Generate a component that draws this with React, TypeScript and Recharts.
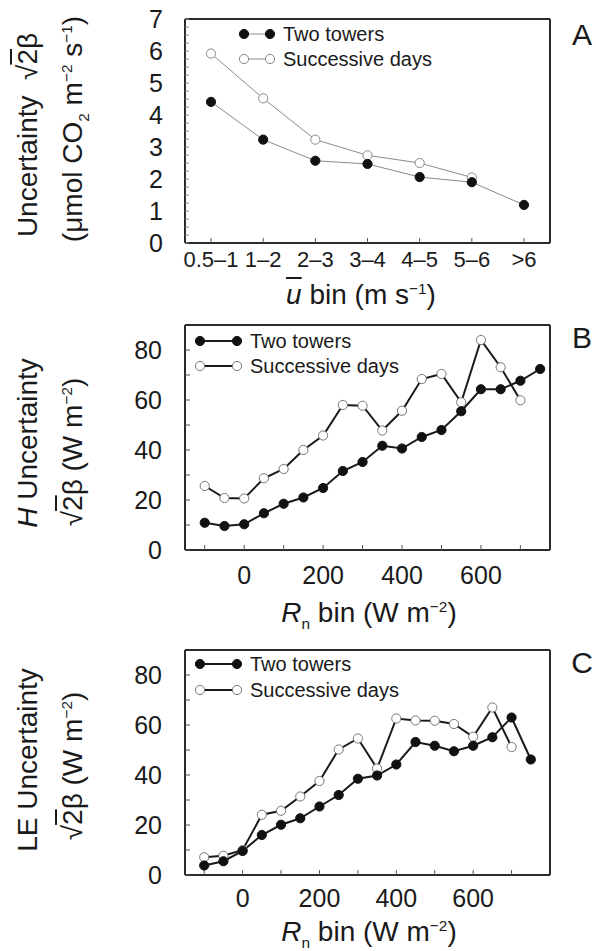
import React from 'react';
import { LineChart, Line, XAxis, YAxis, Legend } from 'recharts';

const FONT = '"Liberation Sans", Arial, Helvetica, sans-serif';
const INK = '#1a1a1a';
const FRAME = '#2b2b2b';
const THIN = '#8a8a8a';

// Panel A: CO2 flux uncertainty per mean wind speed bin
const U_BINS = ['0.5–1', '1–2', '2–3', '3–4', '4–5', '5–6', '>6'];
const CO2_TWO_TOWERS = [4.41, 3.23, 2.57, 2.47, 2.06, 1.9, 1.19];
const CO2_SUCCESSIVE = [5.92, 4.52, 3.23, 2.74, 2.5, 2.05, null];
const CO2_TICKS = [
  0, 0.25, 0.5, 0.75, 1, 1.25, 1.5, 1.75, 2, 2.25, 2.5, 2.75, 3, 3.25, 3.5,
  3.75, 4, 4.25, 4.5, 4.75, 5, 5.25, 5.5, 5.75, 6, 6.25, 6.5, 6.75, 7,
];

// Panels B and C: sensible / latent heat uncertainty per net radiation bin
const RN_BINS = [-100, -50, 0, 50, 100, 150, 200, 250, 300, 350, 400, 450, 500, 550, 600, 650, 700, 750];
const H_TWO_TOWERS = [10.9, 9.6, 10.3, 14.7, 18.5, 21.0, 24.8, 31.6, 35.2, 41.7, 40.6, 45.2, 48.0, 55.5, 64.3, 64.3, 67.7, 72.4];
const H_SUCCESSIVE = [25.6, 20.8, 20.6, 28.7, 32.4, 40.0, 45.8, 58.0, 57.7, 47.8, 55.7, 68.4, 70.4, 59.1, 84.0, 73.1, 59.9, null];
const LE_TWO_TOWERS = [3.8, 5.5, 9.6, 16.0, 20.1, 22.7, 27.4, 32.0, 38.5, 39.8, 44.2, 53.2, 51.7, 49.5, 51.7, 55.1, 63.0, 46.2];
const LE_SUCCESSIVE = [7.1, 7.7, 10.0, 24.1, 25.7, 31.4, 37.6, 50.2, 54.6, 42.6, 62.6, 61.8, 61.7, 60.4, 55.3, 67.0, 51.2, null];

const RN_TICKS = [-100, 0, 100, 200, 300, 400, 500, 600, 700];
const RN_LABELED = [0, 200, 400, 600];
const W_TICKS = [0, 10, 20, 30, 40, 50, 60, 70, 80];
const W_LABELED = [0, 20, 40, 60, 80];

const SERIES = [
  { key: 'two', name: 'Two towers', filled: true },
  { key: 'succ', name: 'Successive days', filled: false },
];

const co2Rows = U_BINS.map((bin, i) => ({ bin, two: CO2_TWO_TOWERS[i], succ: CO2_SUCCESSIVE[i] }));
const hRows = RN_BINS.map((rn, i) => ({ rn, two: H_TWO_TOWERS[i], succ: H_SUCCESSIVE[i] }));
const leRows = RN_BINS.map((rn, i) => ({ rn, two: LE_TWO_TOWERS[i], succ: LE_SUCCESSIVE[i] }));

type Look = { line: string; width: number; open: string };
const LOOK_A: Look = { line: THIN, width: 1, open: THIN };
const LOOK_BC: Look = { line: INK, width: 2, open: '#777' };

function dotFor(filled: boolean, look: Look) {
  return filled
    ? { r: 4.6, fill: '#111', stroke: '#111', strokeWidth: 1 }
    : { r: 4.6, fill: '#fff', stroke: look.open, strokeWidth: 1 };
}

function SeriesKey({ gap, rowH, look }: { gap: number; rowH: number; look: Look }) {
  return (
    <div style={{ fontFamily: FONT, fontSize: 20, color: INK, lineHeight: 1 }}>
      {SERIES.map((s) => (
        <div key={s.key} style={{ display: 'flex', alignItems: 'center', height: rowH }}>
          <svg width={gap + 10} height={12} style={{ overflow: 'visible' }}>
            <line x1={5} x2={gap + 5} y1={6} y2={6} stroke={look.line} strokeWidth={look.width} />
            {[5, gap + 5].map((cx) => (
              <circle key={cx} cx={cx} cy={6} {...dotFor(s.filled, look)} />
            ))}
          </svg>
          <span style={{ marginLeft: 8, whiteSpace: 'nowrap' }}>{s.name}</span>
        </div>
      ))}
    </div>
  );
}

function seriesLines(look: Look) {
  // open markers first so the filled series sits on top where they meet
  return [...SERIES].reverse().map((s) => (
    <Line
      key={s.key}
      dataKey={s.key}
      name={s.name}
      type="linear"
      stroke={look.line}
      strokeWidth={look.width}
      dot={dotFor(s.filled, look)}
      activeDot={false}
      isAnimationActive={false}
    />
  ));
}

const frameLine = { stroke: FRAME, strokeWidth: 2 };
const tickLine = { stroke: '#555', strokeWidth: 1 };

const Radical = () => (
  <span>
    √<span style={{ textDecoration: 'overline' }}>2</span>β
  </span>
);

const Sup = ({ children }: { children: React.ReactNode }) => (
  <sup style={{ fontSize: '0.55em', lineHeight: 0 }}>{children}</sup>
);
const Sub = ({ children }: { children: React.ReactNode }) => (
  <sub style={{ fontSize: '0.55em', lineHeight: 0 }}>{children}</sub>
);

function VTitle({ x, y, children }: { x: number; y: number; children: React.ReactNode }) {
  return (
    <div
      style={{
        position: 'absolute',
        left: x,
        top: y,
        transform: 'translate(-50%, -50%) rotate(-90deg)',
        whiteSpace: 'nowrap',
        fontSize: 28,
        lineHeight: 1,
      }}
    >
      {children}
    </div>
  );
}

function HTitle({ x, y, size = 28, children }: { x: number; y: number; size?: number; children: React.ReactNode }) {
  return (
    <div
      style={{
        position: 'absolute',
        left: x,
        top: y,
        transform: 'translate(-50%, -50%)',
        whiteSpace: 'nowrap',
        fontSize: size,
        lineHeight: 1,
      }}
    >
      {children}
    </div>
  );
}

const RnTitle = () => (
  <>
    <i>R</i>
    <Sub>n</Sub> bin (W m<Sup>−2</Sup>)
  </>
);

const chartMargin = (top: number, bottom: number) => ({ top, right: 46, bottom, left: 125 });

function RnPanel({
  rows,
  top,
  height,
  mTop,
  mBottom,
  xMax,
  xTickMargin,
  legendTop,
  legendRow,
}: {
  rows: { rn: number; two: number; succ: number | null }[];
  top: number;
  height: number;
  mTop: number;
  mBottom: number;
  xMax: number;
  xTickMargin: number;
  legendTop: number;
  legendRow: number;
}) {
  return (
    <div style={{ position: 'absolute', left: 0, top }}>
      <LineChart width={596} height={height} data={rows} margin={chartMargin(mTop, mBottom)}>
        <XAxis
          dataKey="rn"
          type="number"
          domain={[-150, xMax]}
          allowDataOverflow
          ticks={RN_TICKS}
          interval={0}
          tickFormatter={(v: number) => (RN_LABELED.includes(v) ? String(v) : '')}
          tick={{ fontSize: 25, fill: INK }}
          tickSize={-5}
          tickMargin={xTickMargin}
          tickLine={tickLine}
          axisLine={frameLine}
          height={40}
        />
        <XAxis
          xAxisId="top"
          dataKey="rn"
          type="number"
          domain={[-150, xMax]}
          orientation="top"
          mirror
          tick={false}
          tickLine={false}
          axisLine={frameLine}
        />
        <YAxis
          domain={[0, 90]}
          allowDataOverflow
          ticks={W_TICKS}
          interval={0}
          tickFormatter={(v: number) => (W_LABELED.includes(v) ? String(v) : '')}
          tick={{ fontSize: 25, fill: INK }}
          tickSize={-5}
          tickMargin={28}
          tickLine={tickLine}
          axisLine={frameLine}
          width={60}
        />
        <YAxis
          yAxisId="right"
          orientation="right"
          mirror
          domain={[0, 90]}
          tick={false}
          tickLine={false}
          axisLine={frameLine}
        />
        <Legend
          layout="vertical"
          align="center"
          verticalAlign="middle"
          wrapperStyle={{ left: 195, top: legendTop, width: 'auto' }}
          content={() => <SeriesKey gap={37} rowH={legendRow} look={LOOK_BC} />}
        />
        {seriesLines(LOOK_BC)}
      </LineChart>
    </div>
  );
}

export default function App() {
  return (
    <div
      style={{
        position: 'absolute',
        left: 0,
        top: 0,
        width: 596,
        height: 951,
        background: '#fff',
        fontFamily: FONT,
        color: INK,
        overflow: 'hidden',
      }}
    >
      <div style={{ position: 'absolute', left: 0, top: 0 }}>
        <LineChart width={596} height={320} data={co2Rows} margin={chartMargin(19, 37)}>
          <XAxis
            dataKey="bin"
            type="category"
            padding={{ left: 26, right: 26 }}
            interval={0}
            tick={{ fontSize: 22, fill: INK }}
            tickSize={-5}
            tickMargin={13}
            tickLine={tickLine}
            axisLine={frameLine}
            height={40}
          />
          <XAxis
            xAxisId="top"
            dataKey="bin"
            orientation="top"
            mirror
            tick={false}
            tickLine={false}
            axisLine={frameLine}
          />
          <YAxis
            domain={[0, 7]}
            allowDataOverflow
            ticks={CO2_TICKS}
            interval={0}
            tickFormatter={(v: number) => (Number.isInteger(v) ? String(v) : '')}
            tick={{ fontSize: 25, fill: INK }}
            tickSize={-4}
            tickMargin={26}
            tickLine={{ stroke: '#888', strokeWidth: 1 }}
            axisLine={frameLine}
            width={60}
          />
          <YAxis
            yAxisId="right"
            orientation="right"
            mirror
            domain={[0, 7]}
            tick={false}
            tickLine={false}
            axisLine={frameLine}
          />
          <Legend
            layout="vertical"
            align="center"
            verticalAlign="middle"
            wrapperStyle={{ left: 239, top: 21.5, width: 'auto' }}
            content={() => <SeriesKey gap={26} rowH={25} look={LOOK_A} />}
          />
          {seriesLines(LOOK_A)}
        </LineChart>
      </div>

      <RnPanel rows={hRows} top={310} height={320} mTop={15} mBottom={40} xMax={775} xTickMargin={21} legendTop={18.5} legendRow={25} />
      <RnPanel rows={leRows} top={630} height={321} mTop={20} mBottom={36} xMax={800} xTickMargin={19} legendTop={21} legendRow={26} />

      {/* axis titles */}
      <VTitle x={28} y={135}>
        Uncertainty&nbsp;&nbsp;<Radical />
      </VTitle>
      <VTitle x={73} y={129}>
        (μmol CO<Sub>2</Sub> m<Sup>−2</Sup> s<Sup>−1</Sup>)
      </VTitle>
      <HTitle x={361} y={295}>
        <i style={{ textDecoration: 'overline' }}>u</i> bin (m s<Sup>−1</Sup>)
      </HTitle>

      <VTitle x={28} y={443}>
        <i>H</i> Uncertainty
      </VTitle>
      <VTitle x={73} y={452}>
        <Radical /> (W m<Sup>−2</Sup>)
      </VTitle>
      <HTitle x={369} y={613}>
        <RnTitle />
      </HTitle>

      <VTitle x={28} y={760}>
        LE Uncertainty
      </VTitle>
      <VTitle x={73} y={766}>
        <Radical /> (W m<Sup>−2</Sup>)
      </VTitle>
      <HTitle x={369} y={932}>
        <RnTitle />
      </HTitle>

      {/* panel letters */}
      <HTitle x={582} y={35} size={30}>A</HTitle>
      <HTitle x={582} y={338} size={30}>B</HTitle>
      <HTitle x={582} y={663} size={30}>C</HTitle>
    </div>
  );
}
